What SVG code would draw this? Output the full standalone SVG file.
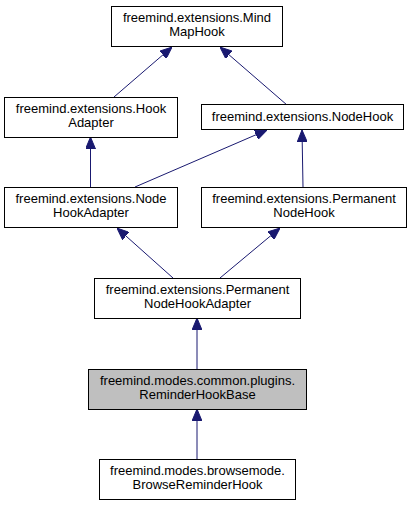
<svg xmlns="http://www.w3.org/2000/svg" width="412" height="507" viewBox="0 0 412 507">
<style>
.n{fill:#fff;stroke:#000;stroke-width:1}
.g{fill:#bfbfbf;stroke:#000;stroke-width:1}
.t{font-family:"Liberation Sans",Arial,sans-serif;font-size:13px;fill:#000;text-anchor:middle}
.e{stroke:#191970;stroke-width:1;fill:none}
</style>
<defs>
<marker id="a" viewBox="0 0 12 10" refX="12" refY="5" markerWidth="12" markerHeight="10" markerUnits="userSpaceOnUse" orient="auto">
<path d="M0,0 L12,5 L0,10 Z" fill="#191970" stroke="#191970"/>
</marker>
</defs>
<rect width="412" height="507" fill="#fff"/>
<g id="edges">
<path class="e" d="M114,97 L172,47" marker-end="url(#a)"/>
<path class="e" d="M287,105 L220,47" marker-end="url(#a)"/>
<path class="e" d="M90.5,187 L90.5,137" marker-end="url(#a)"/>
<path class="e" d="M135,187 L267,130" marker-end="url(#a)"/>
<path class="e" d="M303,187 L302,130" marker-end="url(#a)"/>
<path class="e" d="M173,278 L117,228" marker-end="url(#a)"/>
<path class="e" d="M220,278 L280,228" marker-end="url(#a)"/>
<path class="e" d="M197,369 L197,318" marker-end="url(#a)"/>
<path class="e" d="M197,459 L197,409" marker-end="url(#a)"/>
</g>
<g id="MindMapHook">
<rect class="n" x="111.5" y="6.5" width="171" height="40"/>
<text class="t" x="197" y="22">freemind.extensions.Mind</text>
<text class="t" x="197" y="36">MapHook</text>
</g>
<g id="HookAdapter">
<rect class="n" x="4.5" y="97.5" width="173" height="40"/>
<text class="t" x="91" y="113">freemind.extensions.Hook</text>
<text class="t" x="91" y="127">Adapter</text>
</g>
<g id="NodeHook">
<rect class="n" x="201.5" y="104.5" width="202" height="25"/>
<text class="t" x="302.5" y="121">freemind.extensions.NodeHook</text>
</g>
<g id="NodeHookAdapter">
<rect class="n" x="4.5" y="187.5" width="173" height="40"/>
<text class="t" x="91" y="203">freemind.extensions.Node</text>
<text class="t" x="91" y="217">HookAdapter</text>
</g>
<g id="PermanentNodeHook">
<rect class="n" x="201.5" y="187.5" width="205" height="40"/>
<text class="t" x="304" y="203">freemind.extensions.Permanent</text>
<text class="t" x="304" y="217">NodeHook</text>
</g>
<g id="PermanentNodeHookAdapter">
<rect class="n" x="94.5" y="278.5" width="206" height="40"/>
<text class="t" x="197.5" y="294">freemind.extensions.Permanent</text>
<text class="t" x="197.5" y="308">NodeHookAdapter</text>
</g>
<g id="ReminderHookBase">
<rect class="g" x="88.5" y="369.5" width="218" height="40"/>
<text class="t" x="197.5" y="385">freemind.modes.common.plugins.</text>
<text class="t" x="197.5" y="399">ReminderHookBase</text>
</g>
<g id="BrowseReminderHook">
<rect class="n" x="99.5" y="459.5" width="196" height="40"/>
<text class="t" x="197.5" y="475">freemind.modes.browsemode.</text>
<text class="t" x="197.5" y="489">BrowseReminderHook</text>
</g>
</svg>
